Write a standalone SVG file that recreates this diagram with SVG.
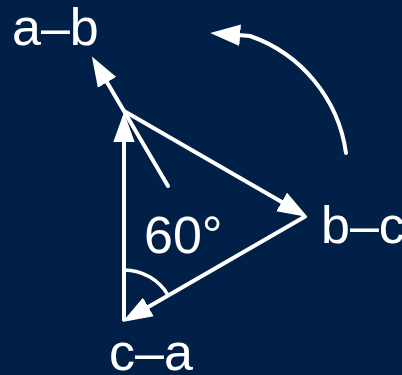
<svg xmlns="http://www.w3.org/2000/svg" width="402" height="375" viewBox="0 0 402 375">
<style>
.bg{fill:#012047}
.lbl{font-family:"Liberation Sans",Arial,sans-serif;font-size:52px;fill:#ffffff}
.edge{stroke:#ffffff;stroke-width:4;fill:none}
.arrowhead{fill:#ffffff}
</style>
<defs>
<marker id="arr" markerUnits="userSpaceOnUse" markerWidth="30" markerHeight="22" viewBox="0 0 28 20" refX="2" refY="10" orient="auto">
<path class="arrowhead" d="M0,0 L28,10 L0,20 z"/>
</marker>
</defs>
<rect class="bg" x="0" y="0" width="402" height="375"/>
<g id="connectors">
<line id="c-a_to_a-b" class="edge" x1="124" y1="321" x2="124" y2="140" marker-end="url(#arr)"/>
<line id="a-b_to_b-c" class="edge" x1="124" y1="111" x2="283.5" y2="203" marker-end="url(#arr)"/>
<line id="b-c_to_c-a" class="edge" x1="306" y1="216" x2="146.5" y2="308" marker-end="url(#arr)"/>
<line id="normal_ab" class="edge" x1="168" y1="186" x2="106" y2="80.5" stroke-linecap="round" marker-end="url(#arr)"/>
<path id="rotation" class="edge" d="M346,153 A145,145 0 0 0 250,36 L238,35.1" stroke-linecap="round" marker-end="url(#arr)"/>
<path id="angle" class="edge" style="stroke-width:3.5" d="M124,270 A51,51 0 0 1 168.2,295.5"/>
</g>
<g id="node-ab"><text class="lbl" x="12" y="45">a–b</text></g>
<g id="node-bc"><text class="lbl" x="321" y="243">b–c</text></g>
<g id="node-ca"><text class="lbl" x="109" y="370">c–a</text></g>
<g id="label-angle"><text class="lbl" x="144" y="253">60°</text></g>
</svg>
